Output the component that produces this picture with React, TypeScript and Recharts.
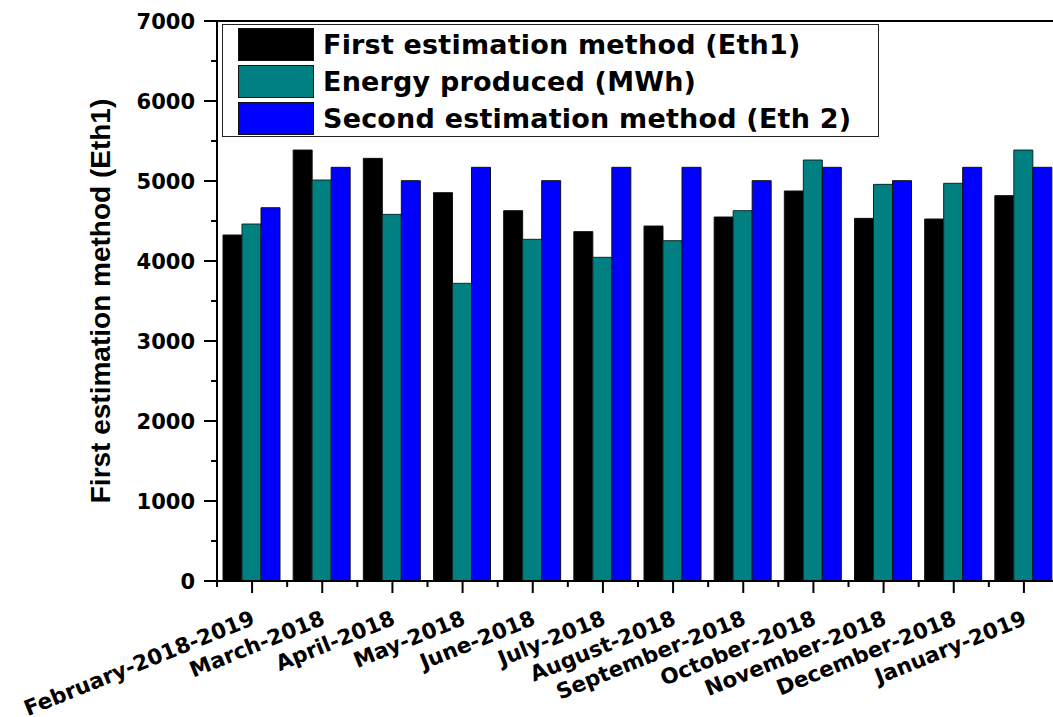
import React from 'react';
import { BarChart, Bar, XAxis, YAxis, ReferenceLine, Legend } from 'recharts';

const categories = [
  'February-2018-2019', 'March-2018', 'April-2018', 'May-2018', 'June-2018', 'July-2018',
  'August-2018', 'September-2018', 'October-2018', 'November-2018', 'December-2018', 'January-2019',
];
const eth1 = [4325, 5387, 5283, 4854, 4629, 4367, 4437, 4550, 4875, 4533, 4525, 4817];
const energy = [4462, 5012, 4583, 3721, 4271, 4046, 4254, 4629, 5262, 4958, 4971, 5387];
const eth2 = [4666, 5171, 5004, 5171, 5004, 5171, 5171, 5004, 5171, 5004, 5171, 5171];
const yTicks = [0, 500, 1000, 1500, 2000, 2500, 3000, 3500, 4000, 4500, 5000, 5500, 6000, 6500, 7000];

const seriesNames = ['First estimation method (Eth1)', 'Energy produced (MWh)', 'Second estimation method (Eth 2)'];
const seriesColors = ['#000000', '#008080', '#0000FF'];

const data = categories.map((c, i) => ({ name: c, eth1: eth1[i], energy: energy[i], eth2: eth2[i] }));

const W = 1080;
const H = 717;
const MARGIN = { top: 21, right: 21, bottom: 0, left: 0 };
const Y_W = 217;
const X_H = 136;
const PLOT_W = W - MARGIN.left - MARGIN.right - Y_W;
const HALF_BAND = PLOT_W / categories.length / 2;

const tickFont = { fontFamily: '"DejaVu Sans", sans-serif', fontWeight: 'bold' as const };

const YTick = (props: any) => {
  const { x, y, payload } = props;
  const major = payload.value % 1000 === 0;
  return (
    <g>
      <line x1={x - (major ? 13 : 6)} y1={y} x2={x} y2={y} stroke="#000" strokeWidth={2} />
      {major && (
        <text x={x - 22} y={y} dy="0.36em" textAnchor="end" fontSize={21} fill="#000" style={tickFont}>
          {payload.value}
        </text>
      )}
    </g>
  );
};

const XTick = (props: any) => {
  const { x, y, payload } = props;
  const tx = x + 4;
  const ty = y + 43;
  return (
    <g>
      <line x1={x} y1={y} x2={x} y2={y + 12} stroke="#000" strokeWidth={2} />
      <line x1={x - HALF_BAND} y1={y} x2={x - HALF_BAND} y2={y + 6} stroke="#000" strokeWidth={2} />
      <text x={tx} y={ty} textAnchor="end" fontSize={21.5} fill="#000" transform={`rotate(-22, ${tx}, ${ty})`} style={tickFont}>
        {payload.value}
      </text>
    </g>
  );
};

const LegendBox = (props: any) => {
  const payload = [...(props.payload || [])].sort(
    (a: any, b: any) => seriesNames.indexOf(a.value) - seriesNames.indexOf(b.value)
  );
  return (
    <div
      style={{
        boxSizing: 'border-box',
        width: 657,
        height: 113,
        border: '1.5px solid #222',
        background: '#fff',
        position: 'relative',
      }}
    >
      {payload.map((p: any, i: number) => (
        <div key={i} style={{ position: 'absolute', left: 15, top: 2.5 + i * 37, height: 33, display: 'flex', alignItems: 'center' }}>
          <div style={{ boxSizing: 'border-box', width: 76, height: 33, background: p.color, border: '1.5px solid #111' }} />
          <span style={{ marginLeft: 9, fontSize: 27, letterSpacing: 0.2, lineHeight: '33px', color: '#000', whiteSpace: 'nowrap', ...tickFont }}>
            {p.value}
          </span>
        </div>
      ))}
    </div>
  );
};

export default function App() {
  return (
    <div style={{ position: 'fixed', left: 0, top: 0, width: 1053, height: 717, overflow: 'hidden', background: '#fff' }}>
      <BarChart width={W} height={H} data={data} margin={MARGIN} barCategoryGap={6} barGap={0}>
        <XAxis
          dataKey="name"
          height={X_H}
          interval={0}
          tickLine={false}
          tickSize={0}
          tickMargin={0}
          axisLine={{ stroke: '#000', strokeWidth: 2 }}
          tick={<XTick />}
        />
        <YAxis
          width={Y_W}
          domain={[0, 7000]}
          ticks={yTicks}
          interval={0}
          tickLine={false}
          tickSize={0}
          tickMargin={0}
          axisLine={{ stroke: '#000', strokeWidth: 2 }}
          tick={<YTick />}
          label={{
            value: 'First estimation method (Eth1)',
            angle: -90,
            position: 'center',
            dx: -8,
            fill: '#000',
            style: { fontFamily: '"Liberation Sans", Arial, sans-serif', fontWeight: 'bold', fontSize: 28, fill: '#000' },
          }}
        />
        <ReferenceLine y={7000} stroke="#000" strokeWidth={2} />
        <Legend
          layout="horizontal"
          verticalAlign="middle"
          align="center"
          wrapperStyle={{ position: 'absolute', left: 222, top: 24, width: 657, height: 113 }}
          content={<LegendBox />}
        />
        <Bar dataKey="eth1" name={seriesNames[0]} fill={seriesColors[0]} stroke="#111" strokeWidth={1} isAnimationActive={false} />
        <Bar dataKey="energy" name={seriesNames[1]} fill={seriesColors[1]} stroke="#0a2a2a" strokeWidth={1} isAnimationActive={false} />
        <Bar dataKey="eth2" name={seriesNames[2]} fill={seriesColors[2]} stroke="#111" strokeWidth={1} isAnimationActive={false} />
      </BarChart>
    </div>
  );
}
